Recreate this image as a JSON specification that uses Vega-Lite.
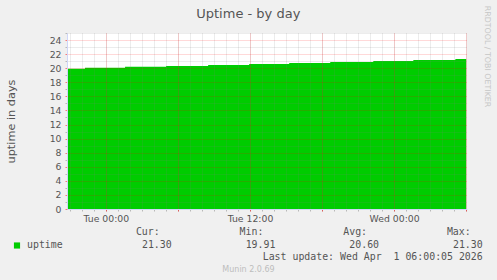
{
  "$schema": "https://vega.github.io/schema/vega-lite/v6.json",
  "padding": {"left": 5, "top": 5, "right": 8, "bottom": 8},
  "background": "#F0F0F0",
  "spacing": 17,
  "bounds": "flush",
  "datasets": {
    "uptime": [
      {"time": "2026-03-30T20:46:00", "uptime": 19.91, "series": "uptime"},
      {"time": "2026-03-30T22:16:00", "uptime": 20.05, "series": "uptime"},
      {"time": "2026-03-31T01:36:00", "uptime": 20.19, "series": "uptime"},
      {"time": "2026-03-31T05:01:00", "uptime": 20.33, "series": "uptime"},
      {"time": "2026-03-31T08:31:00", "uptime": 20.47, "series": "uptime"},
      {"time": "2026-03-31T11:56:00", "uptime": 20.61, "series": "uptime"},
      {"time": "2026-03-31T15:16:00", "uptime": 20.74, "series": "uptime"},
      {"time": "2026-03-31T18:41:00", "uptime": 20.88, "series": "uptime"},
      {"time": "2026-03-31T22:16:00", "uptime": 21.02, "series": "uptime"},
      {"time": "2026-04-01T01:36:00", "uptime": 21.16, "series": "uptime"},
      {"time": "2026-04-01T05:06:00", "uptime": 21.30, "series": "uptime"},
      {"time": "2026-04-01T06:00:00", "uptime": 21.30, "series": "uptime"}
    ],
    "series": [
      {"series": "uptime"}
    ],
    "stats": [
      {"stat": "Cur:", "value": 21.30},
      {"stat": "Min:", "value": 19.91},
      {"stat": "Avg:", "value": 20.60},
      {"stat": "Max:", "value": 21.30}
    ],
    "footer": [
      {"text": "Last update: Wed Apr\u00a0\u00a01 06:00:05 2026"}
    ]
  },
  "config": {
    "font": "DejaVu Sans",
    "view": {"stroke": null},
    "axis": {"labelFont": "DejaVu Sans", "titleFont": "DejaVu Sans", "labelColor": "#555555", "titleColor": "#555555", "titleFontWeight": "normal"}
  },
  "vconcat": [
    {
      "width": 400,
      "height": 176,
      "view": {"fill": "#FFFFFF", "stroke": null},
      "title": {"text": "Uptime - by day", "font": "DejaVu Sans", "fontSize": 13, "fontWeight": "normal", "color": "#555555", "anchor": "middle", "frame": "group", "offset": -16, "dx": -18.7},
      "resolve": {"axis": {"x": "independent", "y": "independent"}},
      "layer": [
        {
          "data": {"name": "uptime"},
          "mark": {"type": "area", "interpolate": "step-after", "opacity": 1, "fillOpacity": 1},
          "encoding": {
            "x": {
              "field": "time", "type": "temporal",
              "scale": {"domain": [{"year": 2026, "month": 3, "date": 30, "hours": 20, "minutes": 46}, {"year": 2026, "month": 4, "date": 1, "hours": 6, "minutes": 4}]},
              "axis": {
                "orient": "bottom",
                "title": null,
                "tickCount": 34,
                "labels": false,
                "domain": false,
                "grid": true,
                "gridDash": [1, 1],
                "gridColor": "rgba(128,128,128,0.3)",
                "tickSize": 2,
                "tickColor": "rgba(128,128,128,0.5)",
                "zindex": 1
              }
            },
            "y": {
              "field": "uptime", "type": "quantitative",
              "scale": {"domain": [0, 25], "nice": false, "zero": true},
              "axis": {
                "orient": "left",
                "title": null,
                "values": [1, 3, 5, 7, 9, 11, 13, 15, 17, 19, 21, 23, 25],
                "labels": false,
                "domain": false,
                "grid": true,
                "gridDash": [1, 1],
                "gridColor": "rgba(128,128,128,0.3)",
                "tickSize": 2,
                "tickColor": "rgba(128,128,128,0.5)",
                "zindex": 1
              }
            },
            "color": {
              "field": "series", "type": "nominal",
              "scale": {"range": ["#00CC00"]},
              "legend": null
            }
          }
        },
        {
          "data": {"name": "uptime"},
          "mark": {"type": "point", "opacity": 0},
          "encoding": {
            "x": {
              "field": "time", "type": "temporal",
              "axis": {
                "orient": "bottom",
                "title": null,
                "tickCount": 6,
                "format": "%a %H:%M",
                "labelExpr": "hours(datum.value) % 12 == 0 ? datum.label : ''",
                "labelOverlap": false,
                "labelFontSize": 9.3,
                "labelPadding": 3,
                "grid": true,
                "gridDash": [1, 1],
                "gridColor": "rgba(255,0,0,0.3)",
                "tickSize": 2,
                "tickColor": "rgba(255,0,0,0.5)",
                "domainColor": "#CFD6F8",
                "zindex": 1
              }
            },
            "y": {
              "field": "uptime", "type": "quantitative",
              "axis": {
                "orient": "left",
                "title": "uptime in days",
                "titleFontSize": 11.3,
                "titlePadding": 33,
                "values": [0, 2, 4, 6, 8, 10, 12, 14, 16, 18, 20, 22, 24],
                "labelFontSize": 9.3,
                "labelPadding": 4,
                "grid": true,
                "gridDash": [1, 1],
                "gridColor": "rgba(255,0,0,0.3)",
                "tickSize": 2,
                "tickColor": "rgba(255,0,0,0.5)",
                "domainColor": "#CFD6F8",
                "zindex": 1
              }
            }
          }
        },
        {
          "mark": {"type": "rule", "color": "#CFD6F8"},
          "encoding": {
            "x": {"datum": {"year": 2026, "month": 4, "date": 1, "hours": 6, "minutes": 4}, "type": "temporal", "axis": null},
            "x2": {"datum": {"year": 2026, "month": 4, "date": 1, "hours": 6, "minutes": 25}},
            "y": {
              "datum": 0, "type": "quantitative",
              "axis": {
                "orient": "right", "labels": false, "ticks": false, "domain": false, "grid": false,
                "title": "RRDTOOL / TOBI OETIKER",
                "titleAngle": 90, "titleFont": "DejaVu Sans", "titleFontSize": 7.9, "titleColor": "#C6C6C6",
                "titleAlign": "center", "titleBaseline": "middle", "titleX": 19, "titleY": 23
              }
            }
          }
        },
        {
          "mark": {"type": "point", "shape": "triangle-right", "filled": true, "color": "#CFD6F8", "opacity": 1, "size": 28},
          "encoding": {
            "x": {"datum": {"year": 2026, "month": 4, "date": 1, "hours": 6, "minutes": 27}, "type": "temporal", "axis": null},
            "y": {"datum": 0, "type": "quantitative", "axis": null}
          }
        },
        {
          "mark": {"type": "rule", "color": "#CFD6F8"},
          "encoding": {
            "x": {"datum": {"year": 2026, "month": 3, "date": 30, "hours": 20, "minutes": 46}, "type": "temporal", "axis": null},
            "y": {"datum": 25, "type": "quantitative", "axis": null},
            "y2": {"datum": 25.5}
          }
        },
        {
          "mark": {"type": "point", "shape": "triangle-up", "filled": true, "color": "#CFD6F8", "opacity": 1, "size": 28},
          "encoding": {
            "x": {"datum": {"year": 2026, "month": 3, "date": 30, "hours": 20, "minutes": 46}, "type": "temporal", "axis": null},
            "y": {"datum": 25.6, "type": "quantitative", "axis": null}
          }
        }
      ]
    },
    {
      "width": 400,
      "height": 37,
      "title": {"text": "Munin 2.0.69", "orient": "bottom", "anchor": "middle", "frame": "group", "font": "DejaVu Sans", "fontSize": 8, "fontWeight": "normal", "color": "#BDBDBD", "dx": -18.5, "offset": 3},
      "layer": [
        {
          "data": {"name": "stats"},
          "mark": {"type": "text", "align": "right", "baseline": "middle", "dx": -12, "font": "DejaVu Sans Mono", "fontSize": 9.9, "color": "#555555"},
          "encoding": {
            "x": {"field": "stat", "type": "nominal", "scale": {"type": "point", "domain": ["Cur:", "Min:", "Avg:", "Max:"], "range": [104.7, 415.7], "padding": 0}, "axis": null},
            "y": {"datum": "header", "type": "nominal", "scale": {"type": "point", "domain": ["header", "uptime", "update"], "padding": 0.5}, "axis": null},
            "text": {"field": "stat", "type": "nominal"}
          }
        },
        {
          "data": {"name": "stats"},
          "mark": {"type": "text", "align": "right", "baseline": "middle", "font": "DejaVu Sans Mono", "fontSize": 9.9, "color": "#555555"},
          "encoding": {
            "x": {"field": "stat", "type": "nominal", "axis": null},
            "y": {"datum": "uptime", "type": "nominal", "axis": null},
            "text": {"field": "value", "type": "quantitative", "format": ".2f"}
          }
        },
        {
          "data": {"name": "series"},
          "mark": {"type": "point", "shape": "square", "filled": true, "opacity": 1, "size": 38, "xOffset": -154.7, "yOffset": 1},
          "encoding": {
            "x": {"datum": "Cur:", "type": "nominal", "axis": null},
            "y": {"datum": "uptime", "type": "nominal", "axis": null},
            "color": {"field": "series", "type": "nominal", "scale": {"range": ["#00CC00"]}, "legend": null}
          }
        },
        {
          "data": {"name": "series"},
          "mark": {"type": "text", "align": "left", "baseline": "middle", "dx": -144.7, "font": "DejaVu Sans Mono", "fontSize": 9.9, "color": "#555555"},
          "encoding": {
            "x": {"datum": "Cur:", "type": "nominal", "axis": null},
            "y": {"datum": "uptime", "type": "nominal", "axis": null},
            "text": {"field": "series", "type": "nominal"}
          }
        },
        {
          "data": {"name": "footer"},
          "mark": {"type": "text", "align": "right", "baseline": "middle", "font": "DejaVu Sans Mono", "fontSize": 9.9, "color": "#555555"},
          "encoding": {
            "x": {"datum": "Max:", "type": "nominal", "axis": null},
            "y": {"datum": "update", "type": "nominal", "axis": null},
            "text": {"field": "text", "type": "nominal"}
          }
        }
      ]
    }
  ]
}
